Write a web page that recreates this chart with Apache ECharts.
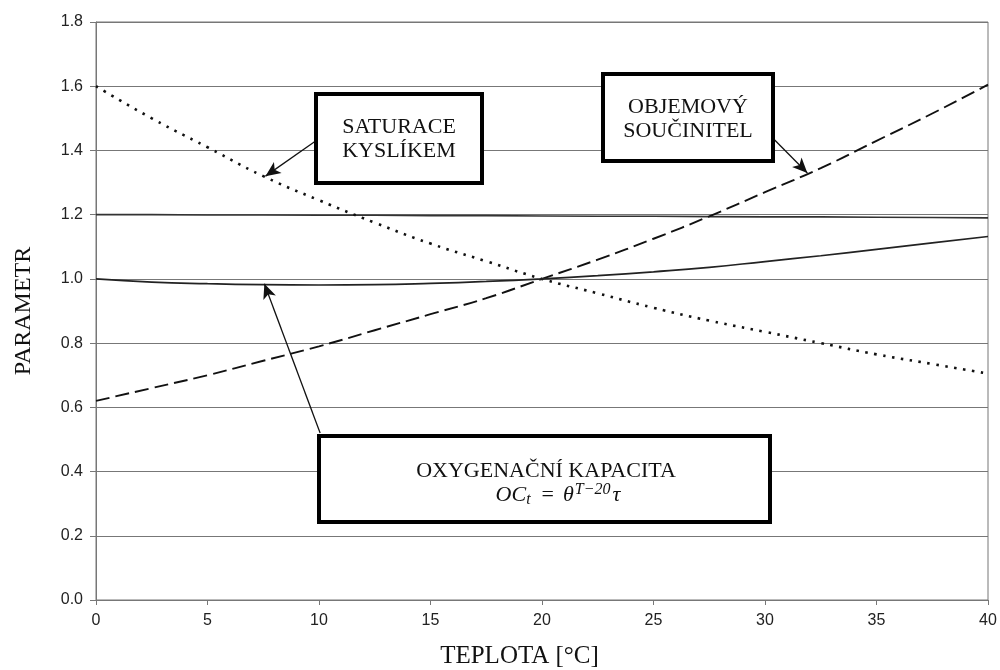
<!DOCTYPE html>
<html><head><meta charset="utf-8">
<script src="https://cdn.jsdelivr.net/npm/echarts@6/dist/echarts.min.js"></script>
<style>html,body{margin:0;padding:0;background:#fff}#c{width:1000px;height:670px}</style>
</head><body><div id="c"></div>
<script>
const temps = [0,2.5,5,7.5,10,12.5,15,17.5,20,22.5,25,27.5,30,32.5,35,37.5,40];
const saturace = [1.60,1.50,1.41,1.32,1.245,1.175,1.11,1.055,1.0,0.955,0.91,0.87,0.835,0.80,0.765,0.735,0.705];
const objemovy = [0.62,0.66,0.70,0.745,0.79,0.84,0.89,0.94,1.0,1.06,1.125,1.195,1.27,1.345,1.43,1.515,1.605];
const kapacita = [1.0,0.99,0.985,0.982,0.981,0.982,0.986,0.992,1.0,1.01,1.022,1.036,1.054,1.072,1.092,1.112,1.132];
const konstanta = [1.2,1.2,1.199,1.199,1.198,1.198,1.197,1.197,1.196,1.195,1.195,1.194,1.193,1.193,1.192,1.191,1.19];
const xTicks = [0,5,10,15,20,25,30,35,40];
const yTicks = [0,0.2,0.4,0.6,0.8,1.0,1.2,1.4,1.6,1.8];

const zip = a => temps.map((t,i)=>[t,a[i]]);
const serif = '"Liberation Serif","DejaVu Serif",serif';
const sans = '"Liberation Sans",Arial,sans-serif';

function arrow(from,to){
  return {silent:true,symbol:['none','arrow'],symbolSize:[10,15],
    lineStyle:{color:'#111',width:1.3,type:'solid'},label:{show:false},
    data:[[{coord:from},{coord:to}]]};
}

const chart = echarts.init(document.getElementById('c'));
chart.setOption({
  animation:false,
  grid:{left:96,right:12,top:22,bottom:70,show:true,borderColor:'#777',borderWidth:1,
    containLabel:false,outerBoundsMode:'none'},
  xAxis:{type:'value',min:0,max:40,interval:5,
    name:'TEPLOTA [°C]',nameLocation:'middle',nameGap:44,
    nameTextStyle:{fontFamily:serif,fontSize:25,color:'#111',padding:[0,45,0,0]},
    axisLine:{lineStyle:{color:'#777'}},axisTick:{show:true,length:5,lineStyle:{color:'#777'}},
    axisLabel:{fontFamily:sans,fontSize:16,color:'#222',margin:13,
      customValues:xTicks},
    splitLine:{show:false}},
  yAxis:{type:'value',min:0,max:1.8,interval:0.2,
    name:'PARAMETR',nameLocation:'middle',nameGap:60,
    nameTextStyle:{fontFamily:serif,fontSize:24,color:'#111'},
    axisLine:{show:true,lineStyle:{color:'#777'}},axisTick:{show:true,length:6,lineStyle:{color:'#777'}},
    axisLabel:{fontFamily:sans,fontSize:16,color:'#222',margin:13,formatter:v=>v.toFixed(1)},
    splitLine:{show:true,lineStyle:{color:'#777',width:1}}},
  series:[
    {name:'konst',type:'line',data:zip(konstanta),showSymbol:false,
     lineStyle:{color:'#333',width:1.6},z:3},
    {name:'SATURACE KYSLÍKEM',type:'line',data:zip(saturace),smooth:true,showSymbol:false,
     lineStyle:{color:'#111',width:2.6,type:[2.5,6.5]},z:4,
     markLine:arrow([9.8,1.427],[7.6,1.32])},
    {name:'OBJEMOVÝ SOUČINITEL',type:'line',data:zip(objemovy),smooth:true,showSymbol:false,
     lineStyle:{color:'#111',width:1.9,type:[14,6]},z:4,
     markLine:arrow([30.2,1.449],[31.9,1.33])},
    {name:'OXYGENAČNÍ KAPACITA',type:'line',data:zip(kapacita),smooth:true,showSymbol:false,
     lineStyle:{color:'#222',width:1.7},z:4,
     markLine:arrow([10.05,0.52],[7.55,0.985])}
  ],
  graphic:[
    {type:'rect',shape:{x:316,y:94,width:166,height:89},style:{fill:'#fff',stroke:'#000',lineWidth:4},z:100},
    {type:'text',x:399,y:139,z:101,style:{text:'SATURACE\nKYSLÍKEM',font:'22px '+serif,fill:'#111',align:'center',verticalAlign:'middle',lineHeight:24}},
    {type:'rect',shape:{x:603,y:74,width:170,height:87},style:{fill:'#fff',stroke:'#000',lineWidth:4},z:100},
    {type:'text',x:688,y:119,z:101,style:{text:'OBJEMOVÝ\nSOUČINITEL',font:'22px '+serif,fill:'#111',align:'center',verticalAlign:'middle',lineHeight:24}},
    {type:'rect',shape:{x:319,y:436,width:451,height:86},style:{fill:'#fff',stroke:'#000',lineWidth:4},z:100},
    {type:'text',x:546,y:471,z:101,style:{text:'OXYGENAČNÍ KAPACITA',font:'22px '+serif,fill:'#111',align:'center',verticalAlign:'middle'}},
    {type:'text',x:558,y:495,z:101,style:{
      text:'{i|OC}{sub|t}{n|=}{i|θ}{sup|T−20}{i|τ}',align:'center',verticalAlign:'middle',
      rich:{
        i:{fontFamily:serif,fontStyle:'italic',fontSize:22,fill:'#111'},
        n:{fontFamily:serif,fontSize:22,fill:'#111',padding:[0,9,0,9]},
        sub:{fontFamily:serif,fontStyle:'italic',fontSize:16,fill:'#111',padding:[9,2,0,0]},
        sup:{fontFamily:serif,fontStyle:'italic',fontSize:16,fill:'#111',padding:[0,2,11,1]}
      }}}
  ]
});
</script></body></html>
